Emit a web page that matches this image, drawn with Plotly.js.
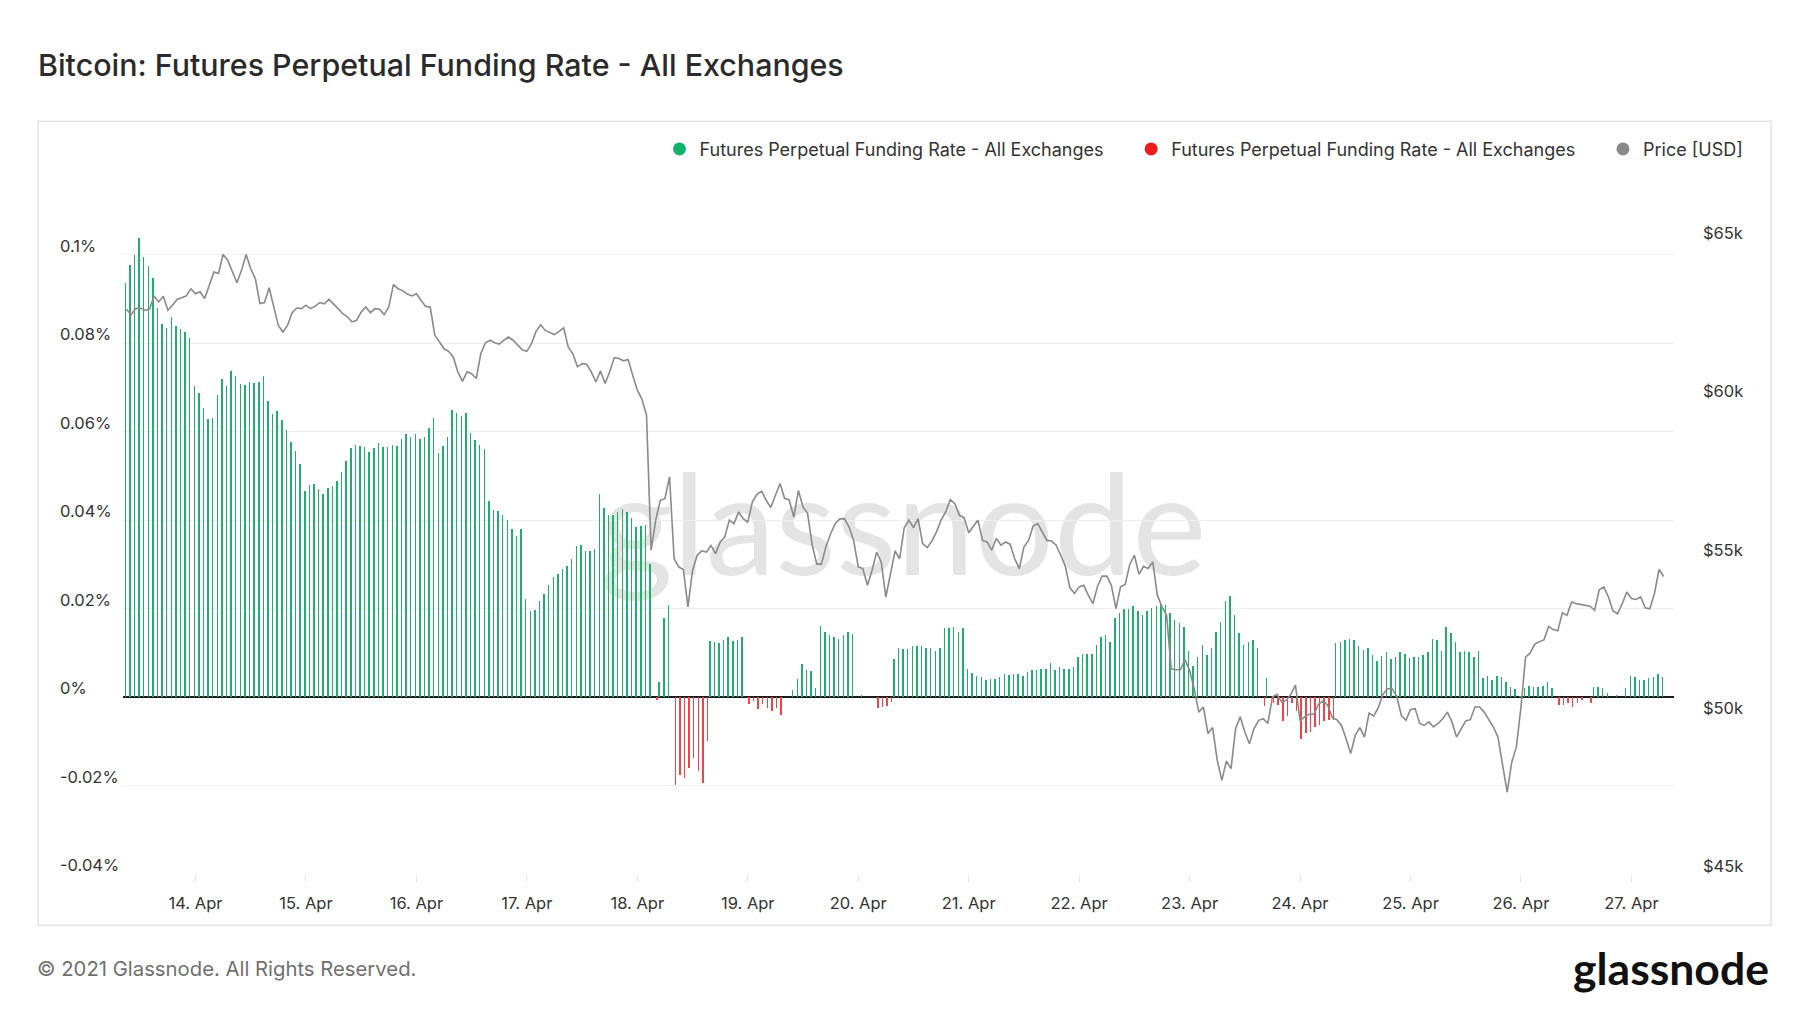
<!doctype html>
<html lang="en">
<head>
<meta charset="UTF-8">
<title>Bitcoin: Futures Perpetual Funding Rate - All Exchanges</title>
<script src="https://cdn.plot.ly/plotly-3.0.1.min.js"></script>
<style>
    html, body { margin: 0; padding: 0; background: #fff; }
    #chart { width: 1800px; height: 1013px; }
</style>
</head>
<body>
<div id="chart"></div>
<script>
// hourly funding rate in %, first value is 13 Apr 2021 09:00
var fundingRate = [
    0.0936, 0.0977, 0.1000, 0.1038, 0.0994, 0.0974, 0.0947, 0.0879, 0.0842, 0.0835,
    0.0859, 0.0838, 0.0831, 0.0825, 0.0811, 0.0703, 0.0686, 0.0652, 0.0629, 0.0631,
    0.0682, 0.0719, 0.0703, 0.0737, 0.0725, 0.0707, 0.0704, 0.0713, 0.0710, 0.0713,
    0.0726, 0.0669, 0.0639, 0.0646, 0.0626, 0.0604, 0.0576, 0.0556, 0.0527, 0.0466,
    0.0478, 0.0482, 0.0469, 0.0458, 0.0472, 0.0476, 0.0488, 0.0508, 0.0533, 0.0563,
    0.0570, 0.0567, 0.0564, 0.0554, 0.0563, 0.0573, 0.0564, 0.0564, 0.0570, 0.0567,
    0.0584, 0.0594, 0.0587, 0.0594, 0.0584, 0.0587, 0.0608, 0.0631, 0.0552, 0.0567,
    0.0588, 0.0648, 0.0642, 0.0635, 0.0642, 0.0597, 0.0580, 0.0569, 0.0561, 0.0442,
    0.0422, 0.0421, 0.0411, 0.0399, 0.0380, 0.0364, 0.0380, 0.0221, 0.0194, 0.0197,
    0.0217, 0.0232, 0.0252, 0.0271, 0.0279, 0.0290, 0.0297, 0.0311, 0.0341, 0.0344,
    0.0331, 0.0331, 0.0334, 0.0459, 0.0428, 0.0411, 0.0411, 0.0417, 0.0424, 0.0417,
    0.0404, 0.0385, 0.0387, 0.0389, 0.0300, -0.0006, 0.0033, 0.0178, 0.0208, -0.0198,
    -0.0177, -0.0183, -0.0160, -0.0138, -0.0168, -0.0194, -0.0100, 0.0127, 0.0124, 0.0122,
    0.0128, 0.0135, 0.0126, 0.0128, 0.0135, -0.0016, -0.0010, -0.0027, -0.0015, -0.0025,
    -0.0032, -0.0025, -0.0040, 0, 0, 0.0015, 0.0041, 0.0075, 0.0062, 0.0058,
    0.0020, 0.0160, 0.0146, 0.0139, 0.0136, 0.0132, 0.0141, 0.0146, 0.0143, 0,
    0.0005, 0, 0, -0.0025, -0.0023, -0.0021, -0.0012, 0.0085, 0.0111, 0.0109,
    0.0109, 0.0115, 0.0115, 0.0116, 0.0111, 0.0111, 0.0105, 0.0111, 0.0155, 0.0155,
    0.0158, 0.0146, 0.0155, 0.0063, 0.0054, 0.0047, 0.0045, 0.0039, 0.0041, 0.0041,
    0.0045, 0.0051, 0.0050, 0.0053, 0.0051, 0.0047, 0.0056, 0.0060, 0.0060, 0.0063,
    0.0063, 0.0077, 0.0060, 0.0068, 0.0063, 0.0063, 0.0068, 0.0091, 0.0098, 0.0098,
    0.0098, 0.0118, 0.0136, 0.0139, 0.0125, 0.0179, 0.0190, 0.0198, 0.0199, 0.0205,
    0.0194, 0.0186, 0.0195, 0.0202, 0.0205, 0.0211, 0.0209, 0.0190, 0.0175, 0.0168,
    0.0158, 0.0103, 0.0071, 0.0091, 0.0118, 0.0094, 0.0111, 0.0146, 0.0169, 0.0217,
    0.0228, 0.0186, 0.0145, 0.0118, 0.0125, 0.0128, 0.0111, -0.0021, 0.0043, -0.0014,
    -0.0017, -0.0055, -0.0044, -0.0014, -0.0032, -0.0095, -0.0081, -0.0080, -0.0068, -0.0063,
    -0.0055, -0.0051, -0.0053, 0.0121, 0.0124, 0.0128, 0.0131, 0.0128, 0.0116, 0.0107,
    0.0111, 0.0094, 0.0081, 0.0092, 0.0101, 0.0085, 0.0091, 0.0101, 0.0098, 0.0088,
    0.0091, 0.0091, 0.0096, 0.0101, 0.0131, 0.0128, 0.0105, 0.0158, 0.0145, 0.0124,
    0.0101, 0.0103, 0.0101, 0.0091, 0.0105, 0.0043, 0.0047, 0.0039, 0.0047, 0.0045,
    0.0033, 0.0023, 0.0017, 0.0002, 0.0020, 0.0026, 0.0023, 0.0023, 0.0026, 0.0033,
    0.0020, -0.0019, -0.0017, -0.0014, -0.0023, -0.0014, -0.0006, 0, -0.0014, 0.0023,
    0.0023, 0.0020, 0.0009, 0, 0.0005, 0, 0.0020, 0.0047, 0.0045, 0.0038,
    0.0038, 0.0043, 0.0045, 0.0053, 0.0045
];

// BTC price in thousand USD, same hours
var priceK = [
    62.86, 62.69, 62.88, 62.90, 62.83, 62.86, 63.28, 63.09, 63.27, 62.83,
    62.99, 63.17, 63.22, 63.28, 63.51, 63.35, 63.41, 63.20, 63.62, 64.04,
    63.99, 64.59, 64.41, 64.04, 63.70, 64.09, 64.59, 64.14, 63.83, 63.04,
    63.07, 63.54, 62.99, 62.35, 62.14, 62.35, 62.75, 62.90, 62.88, 62.99,
    62.88, 62.96, 63.07, 63.03, 63.17, 63.04, 62.88, 62.72, 62.62, 62.46,
    62.51, 62.77, 62.93, 62.75, 62.88, 62.86, 62.69, 62.93, 63.64, 63.51,
    63.45, 63.34, 63.28, 63.35, 63.14, 62.95, 62.93, 62.04, 61.83, 61.61,
    61.53, 61.35, 60.88, 60.58, 60.88, 60.82, 60.67, 61.46, 61.80, 61.88,
    61.80, 61.76, 61.88, 61.98, 61.88, 61.74, 61.58, 61.53, 61.77, 62.16,
    62.37, 62.19, 62.12, 62.06, 62.16, 62.27, 61.66, 61.45, 61.04, 61.14,
    61.12, 60.88, 60.56, 60.91, 60.51, 60.88, 61.33, 61.30, 61.23, 61.27,
    60.77, 60.30, 60.02, 59.51, 55.24, 56.19, 56.82, 56.87, 57.56, 54.97,
    54.71, 54.63, 53.45, 54.60, 55.08, 55.22, 55.18, 55.39, 55.13, 55.50,
    55.66, 56.19, 56.08, 56.45, 56.24, 56.13, 56.77, 57.01, 57.11, 56.82,
    56.59, 56.95, 57.35, 56.88, 56.83, 56.29, 57.13, 56.61, 56.40, 55.40,
    54.80, 54.80, 55.36, 55.76, 56.08, 56.23, 56.24, 55.98, 55.55, 54.71,
    54.66, 54.13, 54.60, 55.18, 54.87, 53.76, 54.50, 55.22, 54.97, 55.95,
    56.19, 55.95, 56.24, 55.45, 55.32, 55.53, 55.82, 56.19, 56.45, 56.84,
    56.71, 56.34, 56.27, 55.79, 56.00, 56.19, 55.55, 55.50, 55.24, 55.61,
    55.40, 55.50, 55.43, 54.97, 54.66, 55.34, 55.55, 56.00, 56.08, 55.82,
    55.55, 55.53, 55.40, 55.08, 54.73, 54.05, 53.87, 54.08, 54.13, 53.81,
    53.55, 54.10, 54.42, 54.42, 54.13, 53.39, 54.08, 54.16, 54.79, 55.08,
    54.48, 54.73, 54.66, 54.87, 53.81, 53.45, 53.18, 51.49, 51.46, 51.46,
    51.78, 51.44, 50.86, 50.12, 50.28, 49.44, 49.63, 48.60, 47.96, 48.57,
    48.33, 49.60, 49.97, 49.49, 49.12, 49.60, 49.86, 49.91, 49.76, 50.60,
    50.68, 50.44, 50.49, 50.68, 50.97, 49.84, 49.97, 50.05, 50.05, 50.37,
    50.47, 50.34, 49.95, 49.88, 49.70, 49.28, 48.81, 49.39, 49.63, 49.33,
    50.09, 49.99, 50.26, 50.68, 50.86, 50.86, 50.62, 50.02, 49.86, 50.20,
    50.23, 49.76, 49.70, 49.81, 49.65, 49.76, 49.91, 50.12, 49.81, 49.33,
    49.57, 49.84, 49.88, 50.28, 50.28, 50.12, 49.88, 49.65, 49.33, 48.44,
    47.59, 48.54, 49.02, 50.28, 51.86, 51.99, 52.27, 52.34, 52.41, 52.83,
    52.73, 52.69, 53.26, 53.18, 53.60, 53.55, 53.53, 53.50, 53.47, 53.34,
    53.99, 54.08, 53.76, 53.32, 53.23, 53.55, 53.92, 53.71, 53.68, 53.76,
    53.42, 53.39, 53.87, 54.63, 54.41
];

var rateTicks = [-0.04, -0.02, 0, 0.02, 0.04, 0.06, 0.08, 0.1, 0.12];
var rateLabels = ['-0.04%', '-0.02%', '0%', '0.02%', '0.04%', '0.06%', '0.08%', '0.1%'];
var priceTicks = [45, 50, 55, 60, 65];
var priceLabels = ['$45k', '$50k', '$55k', '$60k', '$65k'];
var seriesName = 'Futures Perpetual Funding Rate - All Exchanges';

var FONT = 'Inter, "Noto Sans", sans-serif';
var GREEN = '#22ad70';
var RED = '#ef4347';
var GREY = '#8a8a8a';

// hourly timestamps
var t0 = Date.UTC(2021, 3, 13, 9);
var times = fundingRate.map(function (v, i) {
    return new Date(t0 + i * 3600000).toISOString().slice(0, 19).replace('T', ' ');
});

var positive = fundingRate.map(function (v) { return v >= 0 ? v : null; });
var negative = fundingRate.map(function (v) { return v < 0 ? v : null; });

var barWidth = 0.32 * 3600000;

var traces = [
    {
        x: times, y: positive, type: 'bar', width: barWidth,
        marker: { color: GREEN, line: { width: 0 } },
        showlegend: false, hoverinfo: 'x+y'
    },
    {
        x: times, y: negative, type: 'bar', width: barWidth,
        marker: { color: RED, line: { width: 0 } },
        showlegend: false, hoverinfo: 'x+y'
    },
    {
        x: times, y: priceK, yaxis: 'y2', type: 'scatter', mode: 'lines',
        line: { color: GREY, width: 1.6 },
        showlegend: false, hoverinfo: 'x+y'
    },
    // legend entries with round dots, one legend box each
    { x: [null], y: [null], type: 'scatter', mode: 'markers', name: seriesName, legend: 'legend',
      marker: { color: '#14b26c', size: 13 }, hoverinfo: 'skip' },
    { x: [null], y: [null], type: 'scatter', mode: 'markers', name: seriesName, legend: 'legend2',
      marker: { color: '#ee1c1c', size: 13 }, hoverinfo: 'skip' },
    { x: [null], y: [null], type: 'scatter', mode: 'markers', name: 'Price [USD]', legend: 'legend3',
      marker: { color: '#8a8a8a', size: 13 }, hoverinfo: 'skip' }
];

function legendAt(x) {
    return {
        orientation: 'h', x: x, xanchor: 'left', y: 1.0237, yanchor: 'middle',
        font: { family: FONT, size: 18, color: '#333' },
        bgcolor: 'rgba(0,0,0,0)', borderwidth: 0,
        itemclick: false, itemdoubleclick: false
    };
}

// left axis labels sit above their grid lines, left aligned
var annotations = rateLabels.map(function (txt, i) {
    return {
        text: txt, xref: 'paper', x: -0.042, xanchor: 'left',
        yref: 'y', y: rateTicks[i], yanchor: 'middle', yshift: 9,
        showarrow: false, font: { family: FONT, size: 16.5, color: '#333' }
    };
});
annotations.push({
    text: '\u00a9 2021 Glassnode. All Rights Reserved.',
    xref: 'paper', yref: 'paper', x: -0.0568, y: -0.1332,
    xanchor: 'left', yanchor: 'middle', showarrow: false,
    font: { family: FONT, size: 20.3, color: '#6f6f6f' }
});
annotations.push({
    text: 'glassnode',
    xref: 'paper', yref: 'paper', x: 1.0626, y: -0.1320,
    xanchor: 'right', yanchor: 'middle', showarrow: false,
    font: { family: 'Lato, Inter, sans-serif', size: 44.5, color: '#111', weight: 700 }
});

var layout = {
    width: 1800,
    height: 1013,
    margin: { l: 123, r: 126, t: 166, b: 139 },
    paper_bgcolor: '#fff',
    plot_bgcolor: 'rgba(0,0,0,0)',
    font: { family: FONT, color: '#333' },
    title: {
        text: 'Bitcoin: Futures Perpetual Funding Rate - All Exchanges',
        xref: 'container', x: 38 / 1800, xanchor: 'left',
        yref: 'container', y: 1 - 65 / 1013, yanchor: 'middle',
        font: { family: FONT, size: 30.4, color: '#2b2b2b', weight: 500 }
    },
    bargap: 0,
    showlegend: true,
    legend: legendAt(0.3459),
    legend2: legendAt(0.6500),
    legend3: legendAt(0.9542),
    xaxis: {
        type: 'date',
        range: ['2021-04-13 08:15', '2021-04-27 09:15'],
        tick0: '2021-04-14', dtick: 86400000,
        tickformat: '%-d. %b',
        showgrid: false, zeroline: false, showline: false,
        ticks: 'outside', ticklen: 7, tickcolor: '#e6e6e6',
        ticklabelstandoff: 7,
        tickfont: { family: FONT, size: 16.5, color: '#333' }
    },
    yaxis: {
        range: [-0.04, 0.12],
        tickvals: rateTicks,
        showticklabels: false,
        showgrid: true, gridcolor: '#efefef', gridwidth: 1,
        zeroline: true, zerolinecolor: '#1c1c1c', zerolinewidth: 2.5,
        fixedrange: true
    },
    yaxis2: {
        overlaying: 'y', side: 'right',
        range: [45, 67.39],
        tickvals: priceTicks, ticktext: priceLabels,
        showgrid: false, zeroline: false, showline: false,
        ticklabelshift: -8, ticklabelstandoff: 28,
        tickfont: { family: FONT, size: 16.5, color: '#333' },
        fixedrange: true
    },
    shapes: [
        // chart frame
        {
            type: 'rect', xref: 'paper', yref: 'paper', layer: 'below',
            x0: -0.0548, x1: 1.0626, y0: -0.0725, y1: 1.0633,
            line: { color: '#e3e3e3', width: 1.5 }, fillcolor: 'rgba(0,0,0,0)'
        },
        // watermark behind the data
        {
            type: 'rect', xref: 'paper', yref: 'paper', layer: 'below',
            x0: 0.303, x1: 0.703, y0: 0.402, y1: 0.602,
            line: { width: 0 }, fillcolor: 'rgba(0,0,0,0)',
            label: {
                text: 'glassnode', textposition: 'middle center',
                font: { family: 'Lato, Inter, sans-serif', size: 140, color: '#e4e4e4' }
            }
        }
    ],
    annotations: annotations
};

Plotly.newPlot('chart', traces, layout, { displayModeBar: false, staticPlot: true });
</script>
</body>
</html>
